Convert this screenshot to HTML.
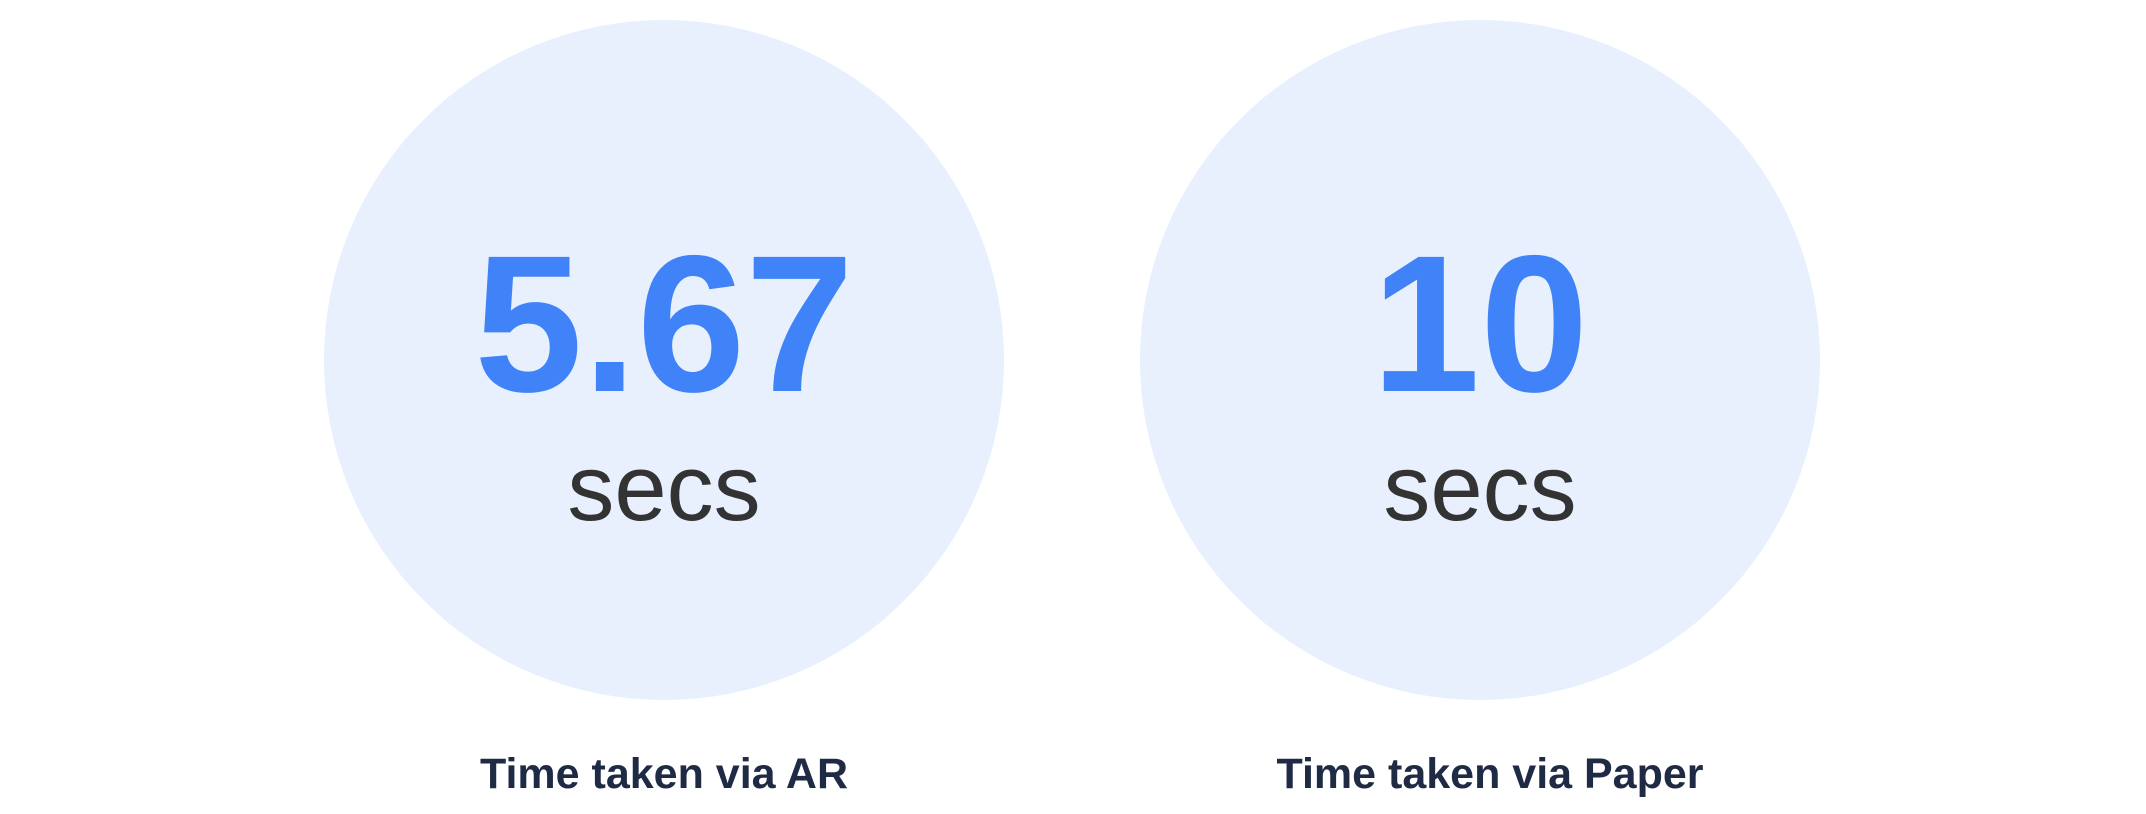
<!DOCTYPE html>
<html><head><meta charset="utf-8"><style>
html,body{margin:0;padding:0;width:2146px;height:814px;background:#fff;overflow:hidden;font-family:"Liberation Sans",sans-serif}
.c{position:absolute;width:680px;height:680px;border-radius:50%;background:#e8f0fd;top:20px}
.t{position:absolute;width:800px;text-align:center;line-height:1;white-space:nowrap}
.n{font-size:195px;font-weight:bold;color:#4083f8;top:227px}
.s{font-size:94px;color:#333;top:441px}
.l{font-size:43px;font-weight:bold;color:#1f2a44;top:753px}
</style></head><body>
<div class="c" style="left:324px"></div>
<div class="c" style="left:1140px"></div>
<div class="t n" style="left:264px">5.67</div>
<div class="t s" style="left:264px">secs</div>
<div class="t l" style="left:264px">Time taken via AR</div>
<div class="t n" style="left:1080px">10</div>
<div class="t s" style="left:1080px">secs</div>
<div class="t l" style="left:1090px">Time taken via Paper</div>
</body></html>
